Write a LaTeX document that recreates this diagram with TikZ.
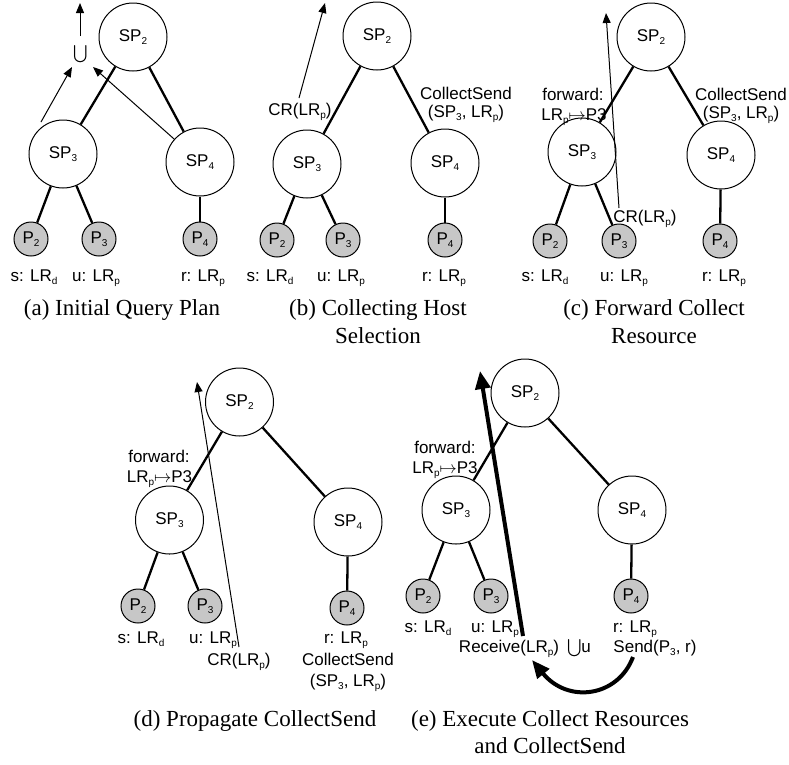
\documentclass[tikz,border=0pt]{standalone}
\usepackage{amsmath}
\usepackage{fontspec}
\setmainfont{Liberation Serif}
\newfontfamily\hv{Liberation Sans}
\usetikzlibrary{arrows.meta}
\newcommand\lo[1]{\raisebox{-3.5pt}{\fontsize{10}{10}\selectfont #1}}
\tikzset{
 sp/.style={circle,draw,line width=1pt,fill=white,minimum size=68pt,inner sep=0pt,font=\hv\fontsize{17}{20}\selectfont},
 pn/.style={circle,draw,line width=1pt,fill=black!22,minimum size=34pt,inner sep=0pt,font=\hv\fontsize{17}{20}\selectfont},
 lbl/.style={inner sep=0pt,anchor=base,font=\hv\fontsize{17}{20}\selectfont},
 captext/.style={inner sep=0pt,anchor=base,font=\fontsize{23}{28}\selectfont},
 edge/.style={line width=2.3pt},
 thinarr/.style={line width=1pt,-{Triangle[length=10pt,width=8pt]}},
 thickarr/.style={line width=4pt,-{Triangle[length=18pt,width=15pt]}},
}
\begin{document}
\begin{tikzpicture}[x=1pt,y=-1pt]
\useasboundingbox (0,0) rectangle (789,764);
% ---------- (a)
\node[sp] (a2) at (133,37) {SP\lo{2}};
\node[sp] (a3) at (63,154) {SP\lo{3}};
\node[sp] (a4) at (200,162) {SP\lo{4}};
\node[pn] (ap2) at (31,239) {P\lo{2}};
\node[pn] (ap3) at (99,239) {P\lo{3}};
\node[pn] (ap4) at (200,239) {P\lo{4}};
\draw[edge] (a2) -- (a3); \draw[edge] (a2) -- (a4);
\draw[edge] (a3) -- (ap2); \draw[edge] (a3) -- (ap3); \draw[edge] (a4) -- (ap4);
\node[lbl] (al1) at (34,281) {s: LR\lo{d}};
\node[lbl] (al2) at (96,281) {u: LR\lo{p}};
\node[lbl] (al3) at (203,281) {r: LR\lo{p}};
\node[inner sep=0pt,font=\fontsize{19}{19}\selectfont] (au) at (81,54) {$\bigcup$};
\coordinate (aut) at (80,36); \coordinate (aup) at (80,3);
\coordinate (as) at (41,122); \coordinate (ae1) at (72,67); \coordinate (ae2) at (93,67);
\draw[thinarr] (aut) -- (aup);
\draw[thinarr] (as) -- (ae1);
\draw[thinarr] (a4) -- (ae2);
\node[captext] (capa) at (122,315) {(a) Initial Query Plan};
% ---------- (b)
\node[sp] (b2) at (377,36) {SP\lo{2}};
\node[sp] (b3) at (307,164) {SP\lo{3}};
\node[sp] (b4) at (445,163) {SP\lo{4}};
\node[pn] (bp2) at (277,240) {P\lo{2}};
\node[pn] (bp3) at (343,240) {P\lo{3}};
\node[pn] (bp4) at (445,240) {P\lo{4}};
\draw[edge] (b2) -- (b3); \draw[edge] (b2) -- (b4);
\draw[edge] (b3) -- (bp2); \draw[edge] (b3) -- (bp3); \draw[edge] (b4) -- (bp4);
\node[lbl] (bl1) at (270,281) {s: LR\lo{d}};
\node[lbl] (bl2) at (341,281) {u: LR\lo{p}};
\node[lbl] (bl3) at (444,281) {r: LR\lo{p}};
\node[lbl] (bcr) at (300,115) {CR(LR\lo{p})};
\node[lbl] (bcs1) at (466,99) {CollectSend};
\node[lbl] (bcs2) at (466,117) {(SP\lo{3}, LR\lo{p})};
\coordinate (bs) at (299,98); \coordinate (be) at (325,3);
\draw[thinarr] (bs) -- (be);
\node[captext] (capb1) at (378,315) {(b) Collecting Host};
\node[captext] (capb2) at (378,343) {Selection};
% ---------- (c)
\node[sp] (c2) at (651,37) {SP\lo{2}};
\node[sp] (c3) at (582,152) {SP\lo{3}};
\node[sp] (c4) at (721,155) {SP\lo{4}};
\node[pn] (cp2) at (550,241) {P\lo{2}};
\node[pn] (cp3) at (619,241) {P\lo{3}};
\node[pn] (cp4) at (720,241) {P\lo{4}};
\draw[edge] (c2) -- (c3); \draw[edge] (c2) -- (c4);
\draw[edge] (c3) -- (cp2); \draw[edge] (c3) -- (cp3); \draw[edge] (c4) -- (cp4);
\node[lbl] (cl1) at (545,281) {s: LR\lo{d}};
\node[lbl] (cl2) at (624,281) {u: LR\lo{p}};
\node[lbl] (cl3) at (724,281) {r: LR\lo{p}};
\node[lbl] (cf1) at (573,100) {forward:};
\node[lbl] (cf2) at (574,120) {LR\lo{p}$\mapsto$P3};
\node[lbl] (ccs1) at (741,100) {CollectSend};
\node[lbl] (ccs2) at (741,118) {(SP\lo{3}, LR\lo{p})};
\node[lbl] (ccr) at (645,222) {CR(LR\lo{p})};
\coordinate (cs) at (619,208); \coordinate (ce) at (606,13);
\draw[thinarr] (cs) -- (ce);
\node[captext] (capc1) at (654,315) {(c) Forward Collect};
\node[captext] (capc2) at (654,343) {Resource};
% ---------- (d)
\node[sp] (d2) at (239.5,402) {SP\lo{2}};
\node[sp] (d3) at (169.5,520) {SP\lo{3}};
\node[sp] (d4) at (348,522) {SP\lo{4}};
\node[pn] (dp2) at (138,606) {P\lo{2}};
\node[pn] (dp3) at (205,606) {P\lo{3}};
\node[pn] (dp4) at (347,608) {P\lo{4}};
\draw[edge] (d2) -- (d3); \draw[edge] (d2) -- (d4);
\draw[edge] (d3) -- (dp2); \draw[edge] (d3) -- (dp3); \draw[edge] (d4) -- (dp4);
\node[lbl] (dl1) at (141,643) {s: LR\lo{d}};
\node[lbl] (dl2) at (213,643) {u: LR\lo{p}};
\node[lbl] (dl3) at (346,643) {r: LR\lo{p}};
\node[lbl] (dcr) at (239,665) {CR(LR\lo{p})};
\node[lbl] (dcs1) at (348,665) {CollectSend};
\node[lbl] (dcs2) at (348,686) {(SP\lo{3}, LR\lo{p})};
\node[lbl] (df1) at (159,462) {forward:};
\node[lbl] (df2) at (159.5,482) {LR\lo{p}$\mapsto$P3};
\coordinate (ds) at (239,647); \coordinate (de) at (197,382);
\draw[thinarr] (ds) -- (de);
\node[captext] (capd) at (255,726) {(d) Propagate CollectSend};
% ---------- (e)
\node[sp] (e2) at (525,393) {SP\lo{2}};
\node[sp] (e3) at (456,510) {SP\lo{3}};
\node[sp] (e4) at (632,510) {SP\lo{4}};
\node[pn] (ep2) at (423,596) {P\lo{2}};
\node[pn] (ep3) at (491,596) {P\lo{3}};
\node[pn] (ep4) at (631,596) {P\lo{4}};
\draw[edge] (e2) -- (e3); \draw[edge] (e2) -- (e4);
\draw[edge] (e3) -- (ep2); \draw[edge] (e3) -- (ep3); \draw[edge] (e4) -- (ep4);
\node[lbl] (el1) at (428,632) {s: LR\lo{d}};
\node[lbl] (el2) at (495,632) {u: LR\lo{p}};
\node[lbl] (el3) at (635,632) {r: LR\lo{p}};
\node[lbl] (erc) at (509,652) {Receive(LR\lo{p})};
\node[lbl] (eun) at (579,652) {{\fontsize{16}{16}\selectfont$\bigcup$}u};
\node[lbl] (esd) at (655,652) {Send(P\lo{3}, r)};
\node[lbl] (ef1) at (445,453) {forward:};
\node[lbl] (ef2) at (445,473) {LR\lo{p}$\mapsto$P3};
\coordinate (es) at (523,636); \coordinate (ee) at (480,371);
\draw[thickarr] (es) -- (ee);
\coordinate (ecs) at (633,657); \coordinate (ece) at (532,660);
\draw[thickarr] (ecs) .. controls (618,697) and (568,704) .. (ece);
\node[captext] (cape1) at (550,726) {(e) Execute Collect Resources};
\node[captext] (cape2) at (550,753) {and CollectSend};
\end{tikzpicture}
\end{document}
